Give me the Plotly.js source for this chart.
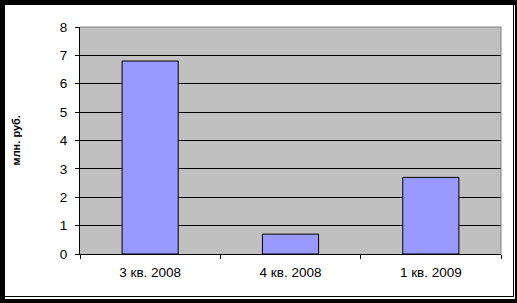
<!DOCTYPE html>
<html>
<head>
<meta charset="utf-8">
<script src="https://cdn.plot.ly/plotly-3.0.1.min.js"></script>
<style>
  html, body { margin: 0; padding: 0; background: #000; width: 517px; height: 303px; overflow: hidden; }
  #frame { position: absolute; left: 5px; top: 5px; width: 510px; height: 294px; background: #fff; }
  #chart { position: absolute; left: 0; top: 0; width: 508px; height: 291px;
           border-right: 1px solid #000; border-bottom: 1px solid #000; overflow: hidden; }
</style>
</head>
<body>
<div id="frame"><div id="chart"></div></div>
<script>
// Quarterly values
const quarters = ['3 кв. 2008', '4 кв. 2008', '1 кв. 2009'];
const values = [6.8, 0.7, 2.7];
const yTicks = [0, 1, 2, 3, 4, 5, 6, 7, 8];
const unitLabel = 'млн. руб.';

const font = 'Liberation Sans, Arial, sans-serif';
const marginL = 75, marginR = 12;
const plotW = 508 - marginL - marginR;

const trace = {
  type: 'bar',
  x: quarters,
  y: values,
  marker: { color: '#9999FF', line: { color: '#000', width: 1 } },
  hoverinfo: 'none'
};

const layout = {
  width: 508,
  height: 291,
  margin: { l: marginL, r: marginR, t: 22, b: 42 },
  paper_bgcolor: '#fff',
  plot_bgcolor: '#C0C0C0',
  bargap: 0.6,
  showlegend: false,
  font: { family: font, size: 13.5, color: '#000' },
  xaxis: {
    type: 'category',
    tickson: 'boundaries',
    ticks: 'outside',
    ticklen: 4,
    tickcolor: '#000',
    showline: true,
    linecolor: '#000',
    linewidth: 1,
    showgrid: false,
    ticklabelstandoff: 6,
    tickfont: { family: font, size: 13.5, color: '#000' }
  },
  yaxis: {
    range: [0, 8],
    tickvals: yTicks,
    ticks: 'outside',
    ticklen: 4,
    tickcolor: '#000',
    showline: true,
    linecolor: '#000',
    linewidth: 1,
    showgrid: true,
    gridcolor: '#000',
    gridwidth: 1,
    zeroline: false,
    ticklabelstandoff: 5,
    tickfont: { family: font, size: 13.5, color: '#000' }
  },
  shapes: [
    // grey frame on the top and right of the plot area
    { type: 'line', xref: 'paper', yref: 'paper', x0: 0, x1: 1, y0: 1, y1: 1,
      line: { color: '#808080', width: 1 } },
    { type: 'line', xref: 'paper', yref: 'paper', x0: 1, x1: 1, y0: 0, y1: 1,
      line: { color: '#808080', width: 1 } }
  ],
  annotations: [
    { text: unitLabel, textangle: -90, showarrow: false,
      xref: 'paper', yref: 'paper', x: -(marginL - 10) / plotW, y: 0.5,
      xanchor: 'center', yanchor: 'middle',
      font: { family: font, size: 11, color: '#000', weight: 'bold' } }
  ]
};

Plotly.newPlot('chart', [trace], layout, { displayModeBar: false, staticPlot: true });
</script>
</body>
</html>
